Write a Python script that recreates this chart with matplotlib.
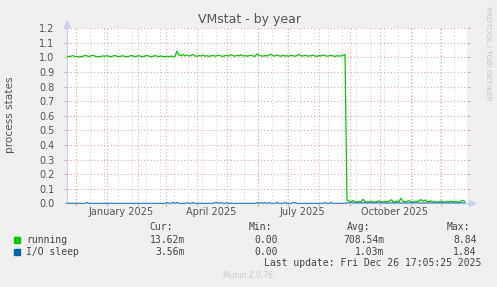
import numpy as np
import matplotlib
matplotlib.use("Agg")
import matplotlib.pyplot as plt
import matplotlib.dates as mdates

# munin "by year" view: 400 days ending at last update, one sample every 2 days
end_time = np.datetime64("2025-12-26T17:05:25")
span_days = 400
step_days = 2

running = [
    1.008, 1.006, 1.009, 1.012, 1.007, 1.005, 1.004, 1.006, 1.008, 1.014, 1.010, 1.007, 1.012, 1.015, 1.009, 1.006, 1.005, 1.008, 1.010, 1.009,
    1.012, 1.008, 1.006, 1.010, 1.013, 1.008, 1.006, 1.009, 1.011, 1.007, 1.005, 1.008, 1.013, 1.010, 1.006, 1.009, 1.012, 1.008, 1.006, 1.010,
    1.014, 1.009, 1.006, 1.008, 1.012, 1.009, 1.006, 1.010, 1.007, 1.005, 1.008, 1.006, 1.009, 1.007, 1.006, 1.044, 1.016, 1.012, 1.020, 1.011,
    1.018, 1.010, 1.014, 1.020, 1.011, 1.008, 1.013, 1.010, 1.016, 1.009, 1.012, 1.008, 1.011, 1.014, 1.009, 1.012, 1.016, 1.010, 1.008, 1.012,
    1.015, 1.010, 1.020, 1.012, 1.009, 1.014, 1.011, 1.018, 1.010, 1.013, 1.009, 1.012, 1.016, 1.010, 1.008, 1.024, 1.014, 1.011, 1.009, 1.013,
    1.010, 1.015, 1.022, 1.012, 1.010, 1.018, 1.011, 1.009, 1.014, 1.010, 1.012, 1.008, 1.016, 1.011, 1.009, 1.013, 1.020, 1.012, 1.010, 1.014,
    1.011, 1.009, 1.012, 1.016, 1.010, 1.008, 1.013, 1.010, 1.018, 1.012, 1.009, 1.011, 1.014, 1.010, 1.008, 1.012, 1.010, 1.011, 1.016, 1.020,
    0.022, 0.016, 0.012, 0.018, 0.010, 0.008, 0.012, 0.010, 0.027, 0.012, 0.008, 0.010, 0.014, 0.009, 0.008, 0.012, 0.016, 0.010, 0.008, 0.012,
    0.010, 0.014, 0.024, 0.012, 0.009, 0.016, 0.010, 0.034, 0.014, 0.010, 0.012, 0.018, 0.010, 0.008, 0.014, 0.012, 0.016, 0.025, 0.014, 0.022,
    0.012, 0.010, 0.016, 0.009, 0.012, 0.008, 0.010, 0.014, 0.009, 0.008, 0.012, 0.010, 0.014, 0.009, 0.012, 0.010, 0.008, 0.016, 0.020, 0.012,
]

io_sleep = [
    0, 0, 0, 0, 0, 0, 0, 0, 0, 0, 0.006, 0, 0, 0, 0, 0, 0, 0, 0, 0,
    0, 0, 0, 0, 0, 0, 0, 0, 0, 0, 0, 0, 0, 0, 0, 0, 0, 0, 0, 0,
    0, 0, 0, 0, 0, 0, 0, 0, 0, 0, 0.006, 0, 0, 0.007, 0, 0.006, 0, 0, 0, 0,
    0.005, 0, 0, 0.006, 0, 0, 0, 0, 0, 0, 0, 0, 0, 0, 0.006, 0.007, 0, 0.006, 0, 0,
    0.005, 0, 0, 0, 0, 0, 0, 0, 0, 0, 0, 0, 0, 0, 0, 0.006, 0, 0.006, 0, 0.005,
    0, 0.006, 0, 0, 0, 0.007, 0, 0, 0, 0.006, 0, 0, 0, 0.006, 0.005, 0, 0, 0, 0, 0,
    0, 0, 0, 0, 0, 0, 0, 0, 0, 0.006, 0, 0, 0.005, 0, 0, 0, 0, 0, 0, 0,
    0.004, 0.003, 0.005, 0.002, 0.004, 0.003, 0.002, 0.004, 0.003, 0.005, 0.002, 0.003, 0.004, 0.002, 0.003, 0.005, 0.002, 0.004, 0.003, 0.002,
    0.003, 0.002, 0.004, 0.003, 0.002, 0.005, 0.003, 0.002, 0.004, 0.003, 0.002, 0.003, 0.005, 0.002, 0.003, 0.004, 0.002, 0.003, 0.002, 0.004,
    0.002, 0.003, 0.004, 0.002, 0.003, 0.002, 0.005, 0.003, 0.002, 0.004, 0.003, 0.002, 0.003, 0.004, 0.002, 0.003, 0.002, 0.004, 0.003, 0.002,
]

month_labels = ["January 2025", "April 2025", "July 2025", "October 2025"]
label_dates = ["2025-01-15", "2025-04-15", "2025-07-15", "2025-10-15"]

legend_names = ["running", "I/O sleep"]
legend_colors = ["#00cc00", "#0066b3"]
cur_vals = ["13.62m", "3.56m"]
min_vals = ["0.00", "0.00"]
avg_vals = ["708.54m", "1.03m"]
max_vals = ["8.84", "1.84"]

W, H = 497, 287
TXT = "#555555"
MGRID = "#e8a8a8"
GRID = "#d6d6d6"
AXIS = "#c8cff0"


def px(x, y):
    return x / W, 1 - y / H


start_time = end_time - np.timedelta64(span_days, "D")
times = start_time + np.arange(len(running)) * np.timedelta64(step_days, "D")
xs = mdates.date2num(times.astype("datetime64[s]").astype(object))
x0 = mdates.date2num(start_time.astype(object))
x1 = mdates.date2num(end_time.astype(object))

fig = plt.figure(figsize=(W / 100, H / 100), dpi=100, facecolor="#f0f0f0")
ax = fig.add_axes([67 / W, 1 - 203.3 / H, 400 / W, 175 / H])
ax.set_facecolor("white")
ax.set_xlim(x0, x1)
ax.set_ylim(0, 1.2)

# grid: every other sunday in grey, month starts in red
months = np.arange(np.datetime64("2024-12"), np.datetime64("2026-01"), np.timedelta64(1, "M"))
month_x = mdates.date2num(months.astype("datetime64[D]").astype(object))
sundays = np.arange(np.datetime64("2024-12-01"), np.datetime64("2025-12-27"), np.timedelta64(14, "D"))
sunday_x = mdates.date2num(sundays.astype(object))
ax.vlines(sunday_x, 0, 1.2, colors=GRID, linestyles=(0, (1, 2)), lw=0.8, zorder=1)
ax.vlines(month_x, 0, 1.2, colors=MGRID, linestyles=(0, (1, 2)), lw=0.8, zorder=1)
yticks = np.round(np.arange(0, 1.21, 0.1), 1)
ax.hlines(yticks[1:], x0, x1, colors=MGRID, linestyles=(0, (1, 2)), lw=0.8, zorder=1)

ax.plot(xs, running, color=legend_colors[0], lw=0.9, zorder=3)
ax.plot(xs, io_sleep, color=legend_colors[1], lw=0.8, zorder=4, clip_on=False, alpha=0.8)

ax.set_yticks(yticks)
ax.set_yticklabels([f"{v:.1f}" for v in yticks], color=TXT, fontsize=7)
ax.tick_params(axis="y", length=0, pad=7)
ax.tick_params(axis="y", which="major", right=True, direction="out", length=2, color=MGRID)
ax.set_xticks(month_x)
ax.set_xticklabels([])
ax.tick_params(axis="x", length=2, color=MGRID, direction="out")

for side in ["top", "right"]:
    ax.spines[side].set_visible(False)
ax.spines["left"].set_color(AXIS)
ax.spines["bottom"].set_color(AXIS)

# axis arrows
ax.plot([0], [1.025], marker="^", ms=4, color=AXIS, transform=ax.transAxes, clip_on=False)
ax.plot([1.012], [0], marker=">", ms=4, color=AXIS, transform=ax.transAxes, clip_on=False)

for lab, d in zip(month_labels, label_dates):
    lx = mdates.date2num(np.datetime64(d).astype(object))
    ax.text(lx, -0.05, lab, ha="center", va="center", color=TXT, fontsize=7,
            transform=ax.get_xaxis_transform())

fig.text(*px(250, 19), "VMstat - by year", ha="center", va="center", color=TXT, fontsize=9)
fig.text(*px(10, 115), "process states", ha="center", va="center", rotation=90, color=TXT, fontsize=7.6)
fig.text(*px(488, 53), "RRDTOOL / TOBI OETIKER", ha="center", va="center", rotation=270,
         color="#c4c4c4", fontsize=5.3)

mono = {"family": "DejaVu Sans Mono", "fontsize": 7, "color": "#444444"}
for x, h in zip([172.5, 271.7, 370, 470], ["Cur:", "Min:", "Avg:", "Max:"]):
    fig.text(*px(x, 226.7), h, ha="right", va="center", **mono)

for i, name in enumerate(legend_names):
    y = 240 + i * 11.7
    fig.patches.append(plt.Rectangle(px(14, y + 3), 6 / W, 6 / H, color=legend_colors[i],
                                     transform=fig.transFigure, figure=fig))
    fig.text(*px(26.5, y), name, ha="left", va="center", **mono)
    for x, v in zip([185, 278.3, 384, 476.7], [cur_vals[i], min_vals[i], avg_vals[i], max_vals[i]]):
        fig.text(*px(x, y), v, ha="right", va="center", **mono)

fig.text(*px(481.7, 263.3), "Last update: Fri Dec 26 17:05:25 2025", ha="right", va="center", **mono)
fig.text(*px(248, 276), "Munin 2.0.76", ha="center", va="center", color="#c8c8c8", fontsize=5.5)

fig.savefig("out.png", dpi=100, facecolor=fig.get_facecolor())
